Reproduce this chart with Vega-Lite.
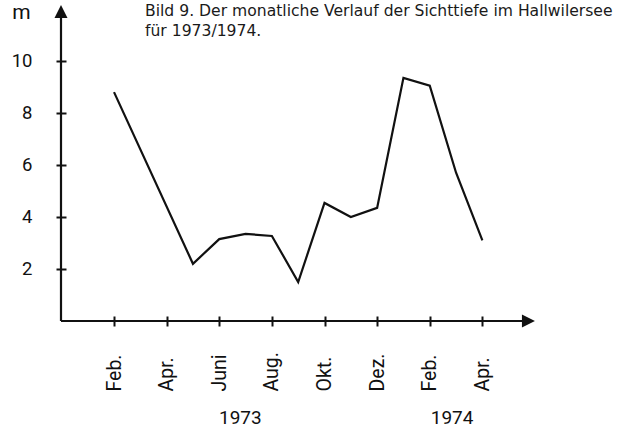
{
  "$schema": "https://vega.github.io/schema/vega-lite/v6.json",
  "autosize": "none",
  "width": 474,
  "height": 316,
  "padding": {"left": 61, "top": 5, "right": 99, "bottom": 109},
  "background": "white",
  "title": {
    "text": ["Bild 9. Der monatliche Verlauf der Sichttiefe im Hallwilersee", "für 1973/1974."],
    "anchor": "start",
    "frame": "group",
    "font": "DejaVu Sans",
    "fontSize": 15.6,
    "fontWeight": "normal",
    "color": "#1a1a1a",
    "baseline": "top",
    "lineHeight": 20,
    "offset": 0,
    "dx": 84,
    "dy": 39
  },
  "config": {"view": {"stroke": null}},
  "data": {"values": [{}]},
  "datasets": {
    "sichttiefe": [
      {"monat": "1973-02", "m": 0, "tiefe": 8.8},
      {"monat": "1973-05", "m": 3, "tiefe": 2.2},
      {"monat": "1973-06", "m": 4, "tiefe": 3.15},
      {"monat": "1973-07", "m": 5, "tiefe": 3.35},
      {"monat": "1973-08", "m": 6, "tiefe": 3.27},
      {"monat": "1973-09", "m": 7, "tiefe": 1.5},
      {"monat": "1973-10", "m": 8, "tiefe": 4.54},
      {"monat": "1973-11", "m": 9, "tiefe": 4.0},
      {"monat": "1973-12", "m": 10, "tiefe": 4.35},
      {"monat": "1974-01", "m": 11, "tiefe": 9.35},
      {"monat": "1974-02", "m": 12, "tiefe": 9.05},
      {"monat": "1974-03", "m": 13, "tiefe": 5.7},
      {"monat": "1974-04", "m": 14, "tiefe": 3.1}
    ]
  },
  "layer": [
    {
      "data": {"name": "sichttiefe"},
      "mark": {"type": "line", "color": "#111", "strokeWidth": 2.2, "strokeJoin": "miter"},
      "encoding": {
        "x": {
          "field": "m", "type": "quantitative",
          "scale": {"domain": [-2.015, 16.0], "nice": false, "zero": false},
          "axis": {
            "values": [0, 2, 4, 6, 8, 10, 12, 14],
            "labelExpr": "['Feb.','Mär.','Apr.','Mai','Juni','Juli','Aug.','Sep.','Okt.','Nov.','Dez.','Jan.','Feb.','Mär.','Apr.'][datum.value]",
            "offset": -5,
            "domain": false,
            "grid": false,
            "tickSize": 10,
            "tickWidth": 2,
            "tickColor": "#111",
            "labelAngle": 270,
            "labelAlign": "left",
            "labelBaseline": "middle",
            "labelPadding": 65,
            "labelFont": "Roboto",
            "labelFontSize": 19.5,
            "labelColor": "#111",
            "labelFlush": false,
            "labelOverlap": false,
            "title": null
          }
        },
        "y": {
          "field": "tiefe", "type": "quantitative",
          "scale": {"domain": [0, 12.15], "nice": false},
          "axis": {
            "values": [2, 4, 6, 8, 10],
            "offset": -5,
            "domain": false,
            "grid": false,
            "tickSize": 10,
            "tickWidth": 2,
            "tickColor": "#111",
            "labelPadding": 24,
            "labelFont": "Roboto",
            "labelFontSize": 18.5,
            "labelColor": "#111",
            "labelFlush": false,
            "title": "m",
            "titleAngle": 0,
            "titleAlign": "center",
            "titleBaseline": "middle",
            "titleX": -45,
            "titleY": 7,
            "titleFont": "Roboto",
            "titleFontSize": 21,
            "titleFontWeight": "normal",
            "titleColor": "#111"
          }
        }
      }
    },
    {
      "mark": {"type": "rule", "color": "#111", "strokeWidth": 2.2},
      "encoding": {"x": {"datum": -2.015}, "y": {"datum": 0}, "y2": {"datum": 11.8}}
    },
    {
      "mark": {"type": "rule", "color": "#111", "strokeWidth": 2.2},
      "encoding": {"x": {"datum": -2.015}, "x2": {"datum": 15.7}, "y": {"datum": 0}}
    },
    {
      "mark": {"type": "point", "shape": "M0,-1L1,1L-1,1Z", "filled": true, "color": "#111", "size": 169, "opacity": 1},
      "encoding": {"x": {"datum": -2.015}, "y": {"datum": 11.9}}
    },
    {
      "mark": {"type": "point", "shape": "M1,0L-1,-1L-1,1Z", "filled": true, "color": "#111", "size": 169, "opacity": 1},
      "encoding": {"x": {"datum": 15.75}, "y": {"datum": 0}}
    },
    {
      "mark": {"type": "text", "font": "Roboto", "fontSize": 19, "color": "#111", "baseline": "middle", "align": "center"},
      "encoding": {"x": {"datum": 4.8}, "y": {"datum": -3.72}, "text": {"value": "1973"}}
    },
    {
      "mark": {"type": "text", "font": "Roboto", "fontSize": 19, "color": "#111", "baseline": "middle", "align": "center"},
      "encoding": {"x": {"datum": 12.85}, "y": {"datum": -3.72}, "text": {"value": "1974"}}
    }
  ]
}
